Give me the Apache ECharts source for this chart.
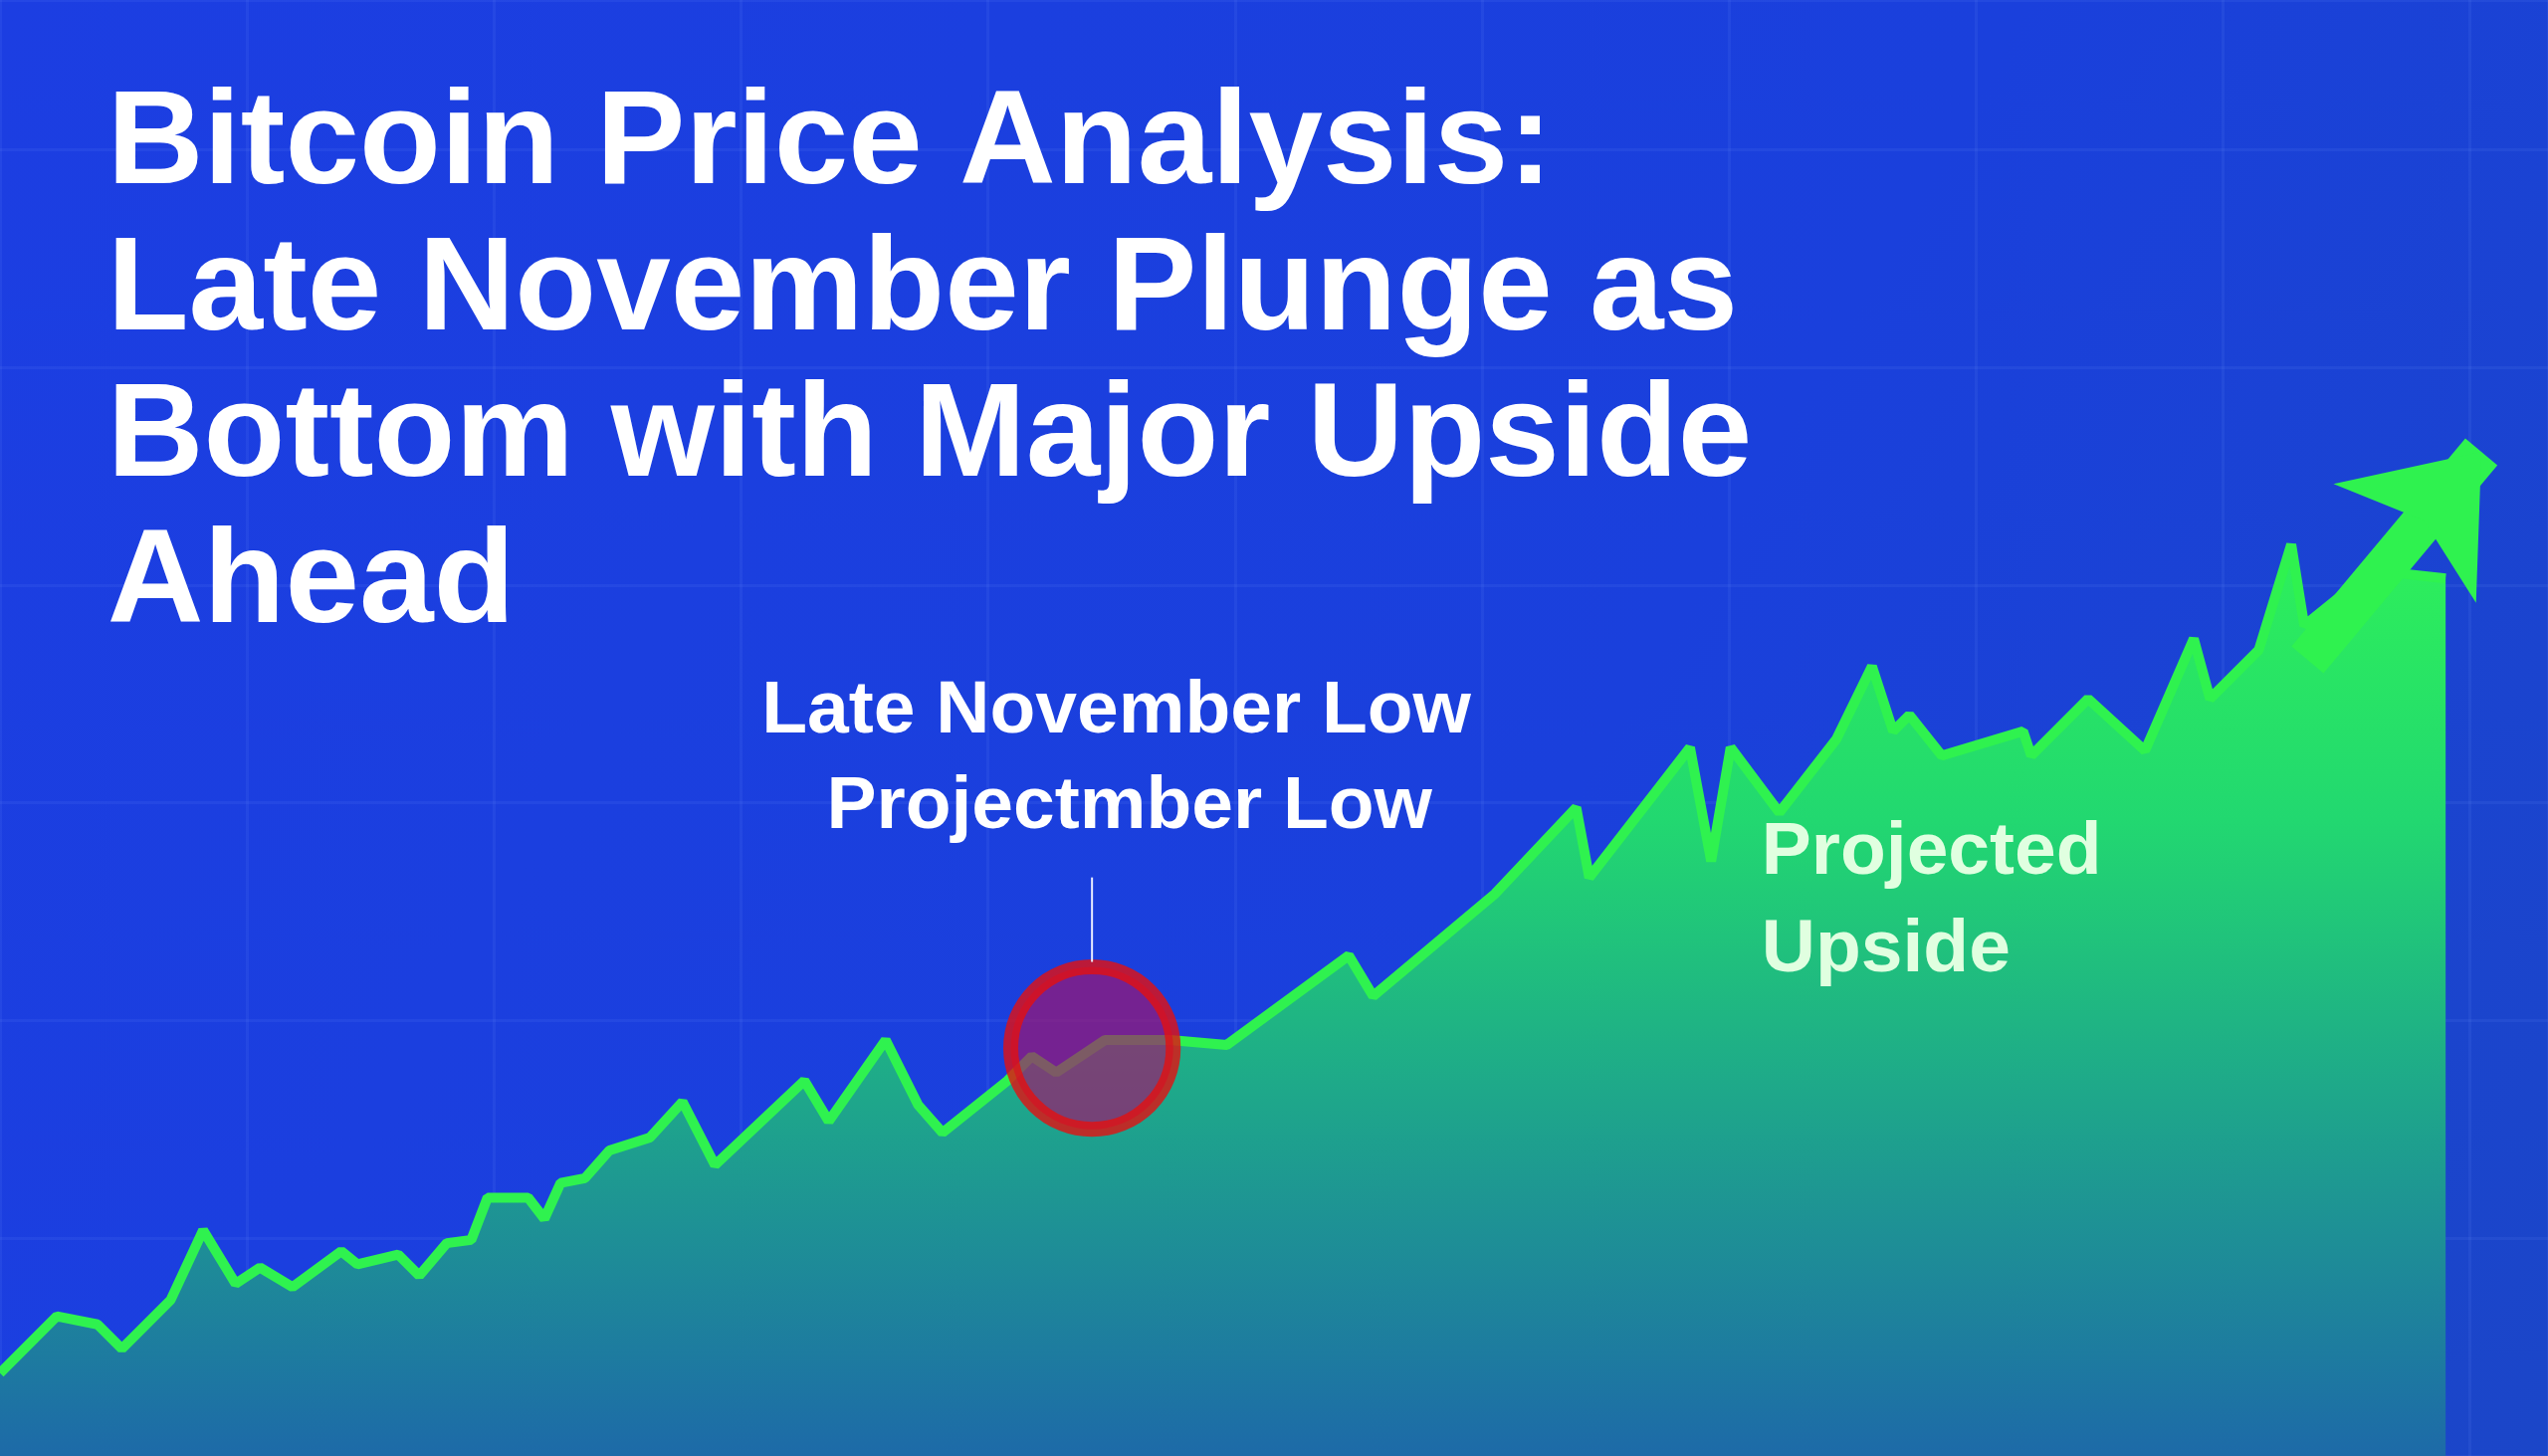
<!DOCTYPE html>
<html><head><meta charset="utf-8">
<script src="https://cdn.jsdelivr.net/npm/echarts@6/dist/echarts.min.js"></script>
<style>html,body{margin:0;padding:0;background:#1a3fd8}#c{width:2560px;height:1463px}</style>
</head><body><div id="c"></div>
<script>
// x: time position, y: price level (chart units)
const priceX = [0,35,60,75,105,125,145,160,180,210,220,245,258,275,290,300,325,335,345,360,375,400,420,440,495,510,545,565,580,620,635,650,680,720,755,830,845,920,970,978,1040,1053,1065,1095,1130,1152,1165,1175,1195,1245,1250,1285,1320,1350,1360,1390,1410,1418,1460,1505];
const priceY = [51,86,81,66,96,139,106,116,104,126,118,124,111,131,133,159,159,146,168,171,188,196,218,179,231,206,256,216,199,231,246,236,256,256,253,308,283,346,399,356,436,366,436,396,441,486,446,456,431,446,431,466,434,503,466,496,561,511,545,540];
const lowPoint = [672,251];
const arrowFrom = [1420,490], arrowTo = [1527,618];
const titleLines = ['Bitcoin Price Analysis:','Late November Plunge as','Bottom with Major Upside','Ahead'];
const S = 2560/1568;
const F = 'px "Liberation Sans", Arial, sans-serif';
const data = priceX.map((x,i)=>[x,priceY[i]]);
const chart = echarts.init(document.getElementById('c'));
chart.setOption({
  backgroundColor:{type:'linear',x:0,y:0,x2:1,y2:1,colorStops:[{offset:0,color:'#1c3ee2'},{offset:0.6,color:'#1a40dc'},{offset:1,color:'#1b46c8'}]},
  grid:{left:0,right:0,top:0,bottom:0},
  xAxis:{type:'value',min:0,max:1568,axisLine:{show:false},axisTick:{show:false},axisLabel:{show:false},
    splitLine:{show:true,lineStyle:{color:'rgba(120,160,255,0.1)',width:3}},interval:152},
  yAxis:{type:'value',min:0,max:896,axisLine:{show:false},axisTick:{show:false},axisLabel:{show:false},
    splitLine:{show:true,lineStyle:{color:'rgba(120,160,255,0.1)',width:3}},interval:134},
  series:[
    {type:'line',data:data,symbol:'none',smooth:false,
     lineStyle:{color:'#2ff24f',width:10},
     areaStyle:{opacity:1,color:{type:'linear',x:0,y:0,x2:0,y2:1,colorStops:[{offset:0,color:'#2ef05a'},{offset:0.3,color:'#22d870'},{offset:0.6,color:'#1ea88a'},{offset:1,color:'#1d6aa8'}]}},
     markLine:{silent:true,symbol:['none','arrow'],symbolSize:[140,120],
       lineStyle:{color:'#2ff24f',width:42,type:'solid',opacity:1},label:{show:false},
       data:[[{coord:arrowFrom},{coord:arrowTo}]]},
     z:2},
    {type:'scatter',data:[lowPoint],symbolSize:100*S,
     itemStyle:{color:'rgba(160,20,110,0.85)',borderColor:'#e41010',borderWidth:15},z:5}
  ],
  graphic:[
    ...titleLines.map((t,i)=>({type:'text',z:100,left:66*S,top:(49+i*90)*S,
      style:{text:t,fill:'#fff',font:'bold '+Math.round(82*S)+F}})),
    {type:'text',z:100,x:687*S,y:438*S,style:{text:'Late November Low',fill:'#fff',align:'center',verticalAlign:'middle',font:'bold '+Math.round(46*S)+F}},
    {type:'text',z:100,x:695*S,y:497*S,style:{text:'Projectmber Low',fill:'#fff',align:'center',verticalAlign:'middle',font:'bold '+Math.round(46*S)+F}},
    {type:'line',z:100,shape:{x1:672*S,y1:540*S,x2:672*S,y2:592*S},style:{stroke:'#e8ecff',lineWidth:2}},
    {type:'text',z:100,x:1084*S,y:525*S,style:{text:'Projected',fill:'#e0ffe0',verticalAlign:'middle',font:'bold '+Math.round(46*S)+F}},
    {type:'text',z:100,x:1084*S,y:585*S,style:{text:'Upside',fill:'#e0ffe0',verticalAlign:'middle',font:'bold '+Math.round(46*S)+F}}
  ]
});
</script></body></html>
